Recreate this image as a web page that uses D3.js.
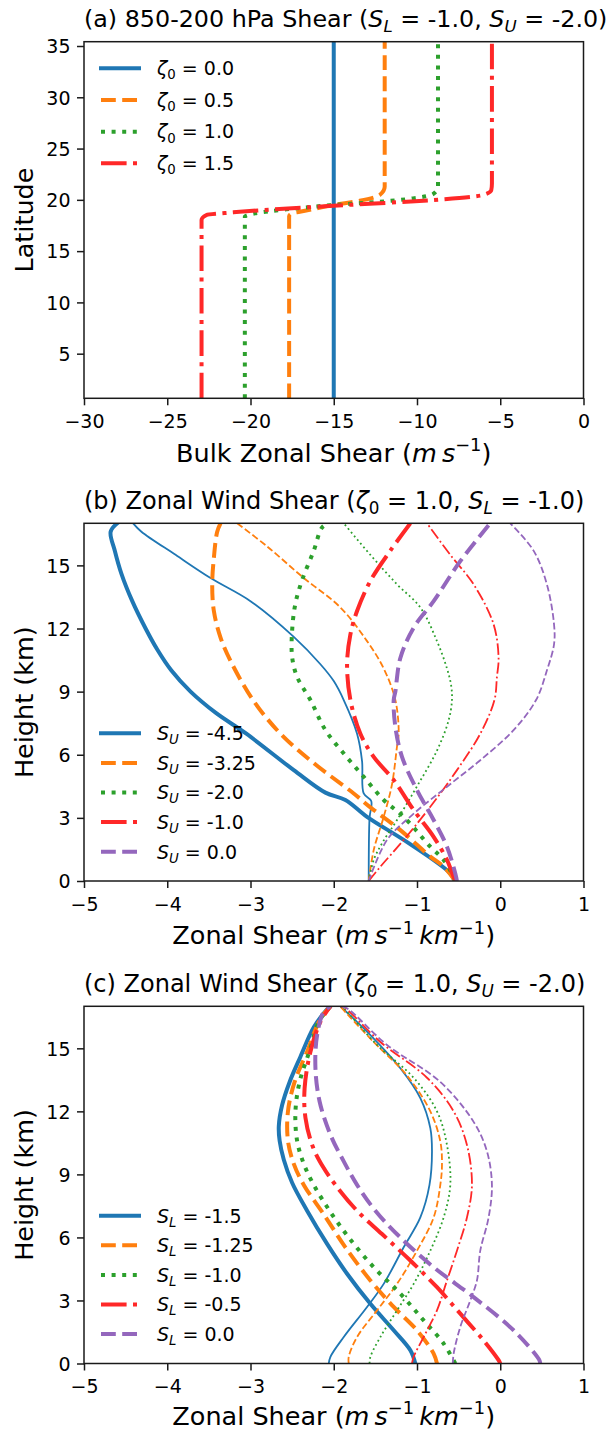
<html>
<head>
<meta charset="utf-8">
<script src="https://d3js.org/d3.v7.min.js"></script>

<style>
    body { margin: 0; background: #fff; }
    svg { font-family: "DejaVu Sans", sans-serif; }
    text { white-space: pre; fill: #000; }
    .frame { fill: none; stroke: #1a1a1a; stroke-width: 1.5px; }
    .axis path { display: none; }
    .axis line { stroke: #1a1a1a; stroke-width: 1.5px; }
    .curve { fill: none; stroke-linejoin: round; }
</style>
</head>

<svg width=610 height=1431></svg>

<script>

    // ---- panel (a): bulk 850-200 hPa shear vs latitude, [shear, lat]
    let zetaLabels = ['0.0', '0.5', '1.0', '1.5'];
    let bulkZeta00 = [[-15, 0.65], [-15, 35.42]];
    let bulkZeta05 = [[-17.68, 0.65], [-17.68, 18.4], [-17.5, 18.7], [-17.04, 18.84], [-15.04, 19.49],
        [-13.44, 19.91], [-12.24, 20.47], [-11.94, 21.27], [-11.94, 35.42]];
    let bulkZeta10 = [[-20.34, 0.65], [-20.34, 18.35], [-19.74, 18.68], [-17.84, 19.07], [-15.04, 19.49],
        [-12.24, 19.81], [-10.24, 20.14], [-9.04, 20.56], [-8.74, 21.27], [-8.74, 35.42]];
    let bulkZeta15 = [[-22.94, 0.65], [-22.94, 18.03], [-22.64, 18.52], [-21.04, 18.78], [-15.04, 19.42],
        [-9.04, 19.98], [-6.04, 20.47], [-5.54, 20.95], [-5.5, 21.6], [-5.5, 35.42]];

    // ---- panel (b): zonal shear profiles for S_U, [shear, km]
    let suLabels = ['-4.5', '-3.25', '-2.0', '-1.0', '0.0'];
    let suThick45 = [[-0.55, 0], [-0.6, 0.36], [-1.1, 1.8], [-1.6, 3.05], [-1.86, 3.85], [-2.1, 4.2], [-2.48, 5.27],
        [-3.05, 7.0], [-3.42, 8.0], [-3.72, 9.0], [-3.95, 10], [-4.12, 11], [-4.26, 12], [-4.42, 13.3],
        [-4.55, 14.6], [-4.63, 15.7], [-4.68, 16.6], [-4.6, 17]];
    let suThin45 = [[-1.58, 0], [-1.57, 3.0], [-1.55, 3.8], [-1.64, 4.16], [-1.66, 5.7], [-1.72, 7.0], [-1.88, 8.6],
        [-2.0, 9.5], [-2.16, 10.3], [-2.48, 11.6], [-3.0, 13.3], [-3.48, 14.4], [-3.9, 15.5], [-4.31, 16.6], [-4.41, 17]];
    let suThick325 = [[-0.54, 0], [-0.68, 0.68], [-0.84, 1.16], [-1.2, 2.42], [-1.56, 3.5], [-1.76, 4.16], [-2.24, 5.6],
        [-2.64, 7.0], [-2.97, 8.6], [-3.24, 10.46], [-3.36, 11.57], [-3.44, 12.83], [-3.46, 14.1], [-3.44, 15.36],
        [-3.4, 16.6], [-3.36, 17]];
    let suThin325 = [[-1.58, 0], [-1.52, 1.47], [-1.4, 3.05], [-1.3, 4.6], [-1.24, 6.4], [-1.22, 7.0], [-1.26, 8.6],
        [-1.4, 10.1], [-1.6, 11.4], [-1.92, 13.0], [-2.36, 14.4], [-2.8, 15.9], [-3.16, 17]];
    let suThick20 = [[-0.54, 0], [-0.56, 0.2], [-0.68, 1.0], [-0.84, 1.63], [-1.16, 3.05], [-1.4, 3.85], [-1.64, 4.95],
        [-1.88, 6.06], [-2.1, 7.17], [-2.28, 8.6], [-2.44, 9.7], [-2.5, 10.65], [-2.5, 11.9], [-2.46, 13.2],
        [-2.38, 14.3], [-2.24, 15.7], [-2.14, 16.8], [-2.06, 17]];
    let suThin20 = [[-1.58, 0], [-1.52, 1.0], [-1.42, 1.79], [-1.24, 2.9], [-1.0, 4.5], [-0.76, 6.2], [-0.62, 7.64],
        [-0.58, 8.6], [-0.59, 9.3], [-0.64, 10.1], [-0.76, 11.4], [-0.96, 13.0], [-1.24, 14.1], [-1.56, 15.5], [-1.88, 17]];
    let suThick10 = [[-0.53, 0], [-0.56, 0.2], [-0.64, 1.0], [-0.8, 2.1], [-1.04, 3.37], [-1.28, 4.8], [-1.52, 5.9],
        [-1.68, 7.0], [-1.8, 8.6], [-1.84, 10.3], [-1.8, 11.72], [-1.72, 12.83], [-1.56, 14.26], [-1.32, 15.7], [-1.08, 17]];
    let suThin10 = [[-1.58, 0], [-1.44, 0.68], [-1.16, 1.95], [-0.84, 3.53], [-0.52, 5.27], [-0.24, 7.0], [-0.07, 8.6],
        [-0.04, 9.7], [-0.02, 10.6], [-0.08, 12.2], [-0.32, 14.1], [-0.6, 15.5], [-0.88, 17]];
    let suThick00 = [[-0.52, 0], [-0.54, 0.36], [-0.64, 1.63], [-0.8, 2.9], [-1.0, 4.32], [-1.18, 5.9], [-1.26, 7.33],
        [-1.28, 8.6], [-1.26, 9.0], [-1.2, 10.6], [-1.04, 12.04], [-0.8, 13.3], [-0.48, 15.2], [-0.12, 17]];
    let suThin00 = [[-1.58, 0], [-1.36, 1.95], [-1.04, 3.2], [-0.64, 4.48], [-0.24, 5.74], [0.16, 7.17], [0.43, 8.6],
        [0.56, 10.0], [0.646, 11.25], [0.646, 12.2], [0.56, 14.1], [0.4, 15.7], [0.12, 17]];

    // ---- panel (c): zonal shear profiles for S_L, [shear, km]
    let slLabels = ['-1.5', '-1.25', '-1.0', '-0.5', '0.0'];
    let slThick15 = [[-1.02, 0], [-1.08, 0.63], [-1.28, 1.58], [-1.56, 2.84], [-1.84, 4.27], [-2.08, 5.69], [-2.32, 7.27],
        [-2.5, 8.6], [-2.6, 9.7], [-2.65, 10.6], [-2.66, 11.3], [-2.62, 12.3], [-2.53, 13.4], [-2.4, 14.6],
        [-2.24, 16.0], [-2.08, 16.85], [-2.04, 17]];
    let slThin15 = [[-2.06, 0], [-2.04, 0.32], [-1.88, 1.26], [-1.6, 2.69], [-1.4, 3.79], [-1.16, 5.53], [-0.96, 6.95],
        [-0.85, 8.5], [-0.82, 10.1], [-0.84, 11.2], [-0.96, 12.63], [-1.2, 14.05], [-1.56, 15.63], [-1.92, 17]];
    let slThick125 = [[-0.76, 0], [-0.8, 0.47], [-1.0, 1.58], [-1.28, 2.69], [-1.56, 3.95], [-1.86, 5.53], [-2.12, 7.1],
        [-2.36, 8.5], [-2.48, 9.5], [-2.55, 10.6], [-2.55, 12.0], [-2.47, 13.4], [-2.32, 14.84], [-2.16, 16.4], [-2.04, 17]];
    let slThin125 = [[-1.82, 0], [-1.82, 0.32], [-1.72, 1.26], [-1.48, 2.53], [-1.24, 3.79], [-1.0, 5.37], [-0.8, 6.95],
        [-0.72, 8.5], [-0.7, 9.46], [-0.72, 10.57], [-0.84, 12.0], [-1.12, 13.7], [-1.52, 15.3], [-1.9, 16.9], [-1.92, 17]];
    let slThick10 = [[-0.54, 0], [-0.68, 0.95], [-0.92, 2.05], [-1.2, 3.32], [-1.52, 4.58], [-1.82, 6.0], [-2.05, 7.27],
        [-2.24, 8.5], [-2.36, 9.5], [-2.44, 10.6], [-2.46, 12.0], [-2.41, 13.4], [-2.28, 15.0], [-2.18, 16.27], [-2.04, 17]];
    let slThin10 = [[-1.57, 0], [-1.56, 0.32], [-1.44, 1.26], [-1.24, 2.53], [-1.04, 3.79], [-0.84, 5.37], [-0.68, 6.95],
        [-0.6, 8.5], [-0.64, 10.4], [-0.76, 12.0], [-1.04, 13.6], [-1.48, 15.16], [-1.88, 16.9], [-1.92, 17]];
    let slThick05 = [[0, 0], [-0.02, 0.16], [-0.2, 1.1], [-0.48, 2.37], [-0.76, 3.63], [-1.08, 4.9], [-1.42, 6.16],
        [-1.72, 7.27], [-1.98, 8.5], [-2.12, 9.3], [-2.25, 10.3], [-2.34, 11.7], [-2.35, 13.1], [-2.28, 14.84],
        [-2.16, 16.27], [-2.04, 17]];
    let slThin05 = [[-1.06, 0], [-1.04, 0.32], [-0.92, 1.26], [-0.76, 2.53], [-0.64, 3.95], [-0.52, 5.37], [-0.4, 6.95],
        [-0.34, 8.5], [-0.4, 10.4], [-0.56, 12.0], [-0.88, 13.6], [-1.44, 15.3], [-1.86, 16.9], [-1.92, 17]];
    let slThick00 = [[0.48, 0], [0.47, 0.16], [0.16, 1.58], [-0.32, 3.16], [-0.8, 4.58], [-1.2, 6.0], [-1.5, 7.27],
        [-1.72, 8.5], [-1.88, 9.62], [-2.04, 10.89], [-2.17, 12.47], [-2.22, 14.05], [-2.2, 15.63], [-2.12, 16.74], [-2.04, 17]];
    let slThin00 = [[-0.57, 0], [-0.56, 0.47], [-0.48, 1.74], [-0.36, 3.0], [-0.28, 3.95], [-0.24, 5.37], [-0.14, 6.95],
        [-0.1, 8.5], [-0.16, 10.1], [-0.32, 11.5], [-0.72, 13.4], [-1.36, 15.16], [-1.84, 16.9], [-1.92, 17]];

    // ticks
    let xTicksA = [-30, -25, -20, -15, -10, -5, 0];
    let yTicksA = [5, 10, 15, 20, 25, 30, 35];
    let xTicksBC = [-5, -4, -3, -2, -1, 0, 1];
    let yTicksBC = [0, 3, 6, 9, 12, 15];

    let colors = ['#1f77b4', '#ff7f0e', '#2ca02c', '#ff2828', '#9467bd'];
    let styles = ['solid', 'dashed', 'dotted', 'dashdot', 'dashed'];

    function dashes(style, lw) {
        if (style == 'dashed') return [3.7 * lw, 1.6 * lw].join(',');
        if (style == 'dotted') return [lw, 1.65 * lw].join(',');
        if (style == 'dashdot') return [6.4 * lw, 1.6 * lw, lw, 1.6 * lw].join(',');
        return null;
    }

    let svg = d3.select('svg'),
        left = 84, right = 583.5,
        tickFont = 19, labelFont = 25.5;

    // mathtext-ish rich text: parts with it / sub / sup flags
    function rich(textSel, parts, size) {
        let shift = 0;
        parts.forEach(p => {
            let want = p.sub ? 0.22 * size : p.sup ? -0.42 * size : 0;
            let ts = textSel.append('tspan').text(p.t);
            if (want != shift) ts.attr('dy', want - shift);
            shift = want;
            if (p.it) ts.attr('font-style', 'italic');
            if (p.sub || p.sup) ts.attr('font-size', size * 0.7);
        });
        return textSel;
    }

    function panel(cfg) {
        let x = d3.scaleLinear().domain(cfg.xDomain).range([left, right]);
        let y = d3.scaleLinear().domain(cfg.yDomain).range([cfg.bottom, cfg.top]);

        let clipId = 'clip' + cfg.id;
        svg.append('clipPath').attr('id', clipId)
            .append('rect')
            .attr('x', left).attr('y', cfg.top)
            .attr('width', right - left).attr('height', cfg.bottom - cfg.top);

        let line = d3.line()
            .x(d => x(d[0]))
            .y(d => y(d[1]))
            .curve(cfg.curve);

        let g = svg.append('g').attr('clip-path', 'url(#' + clipId + ')');
        cfg.series.forEach((s, i) => {
            let layers = [[s.thick, 4]];
            if (s.thin) layers.push([s.thin, 1.8]);
            layers.forEach(([data, lw]) => {
                g.append('path')
                    .attr('class', 'curve')
                    .attr('d', line(data))
                    .attr('stroke', colors[i])
                    .attr('stroke-width', lw)
                    .attr('stroke-linecap', styles[i] == 'solid' ? 'square' : 'butt')
                    .attr('stroke-dasharray', dashes(styles[i], lw));
            });
        });

        // axes
        let fmt = d3.format('d');
        let xa = svg.append('g').attr('class', 'axis')
            .attr('transform', 'translate(0,' + cfg.bottom + ')')
            .call(d3.axisBottom(x).tickValues(cfg.xTicks).tickFormat(fmt).tickSize(7).tickSizeOuter(0));
        let ya = svg.append('g').attr('class', 'axis')
            .attr('transform', 'translate(' + left + ',0)')
            .call(d3.axisLeft(y).tickValues(cfg.yTicks).tickFormat(fmt).tickSize(7).tickSizeOuter(0).tickPadding(6.5));
        [xa, ya].forEach(a => a.attr('font-size', tickFont).attr('font-family', null));
        xa.selectAll('text').attr('dy', '0.71em').attr('y', 16.5);
        ya.selectAll('text').attr('dy', '0.36em');

        svg.append('rect').attr('class', 'frame')
            .attr('x', left).attr('y', cfg.top)
            .attr('width', right - left).attr('height', cfg.bottom - cfg.top);

        // title, left aligned on the axes
        rich(svg.append('text')
            .attr('x', left).attr('y', cfg.top - 14.5)
            .attr('font-size', cfg.titleFont), cfg.title, cfg.titleFont);

        rich(svg.append('text')
            .attr('x', (left + right) / 2).attr('y', cfg.bottom + cfg.xLabelGap)
            .attr('text-anchor', 'middle')
            .attr('font-size', labelFont), cfg.xLabel, labelFont);

        svg.append('text')
            .attr('transform', 'translate(33,' + (cfg.top + cfg.bottom) / 2 + ') rotate(-90)')
            .attr('text-anchor', 'middle')
            .attr('font-size', labelFont)
            .text(cfg.yLabel);

        // legend
        let lg = svg.append('g');
        cfg.legend.forEach((lab, i) => {
            let ly = cfg.legendY + i * cfg.legendStep;
            lg.append('line')
                .attr('x1', 101).attr('x2', 139).attr('y1', ly).attr('y2', ly)
                .attr('stroke', colors[i]).attr('stroke-width', 4)
                .attr('stroke-linecap', styles[i] == 'solid' ? 'square' : 'butt')
                .attr('stroke-dasharray', dashes(styles[i], 4));
            rich(lg.append('text').attr('x', 157).attr('y', ly + 6.8).attr('font-size', tickFont),
                lab, tickFont);
        });
    }

    let shearUnits = [{t: 'Zonal Shear ('}, {t: 'm', it: 1}, {t: '\u2009'}, {t: 's', it: 1}, {t: '\u22121', sup: 1},
        {t: '\u2009'}, {t: 'km', it: 1}, {t: '\u22121', sup: 1}, {t: ')'}];
    let smooth = d3.curveCatmullRom.alpha(0.5);

    panel({
        id: 'a', top: 41.7, bottom: 398.3, titleFont: 23.8, xLabelGap: 63.3, curve: d3.curveMonotoneY,
        xDomain: [-30, 0], yDomain: [0.65, 35.42],
        xTicks: xTicksA, yTicks: yTicksA,
        series: [{thick: bulkZeta00}, {thick: bulkZeta05}, {thick: bulkZeta10}, {thick: bulkZeta15}],
        title: [{t: '(a) 850-200 hPa Shear ('}, {t: 'S', it: 1}, {t: 'L', it: 1, sub: 1}, {t: ' = -1.0, '},
            {t: 'S', it: 1}, {t: 'U', it: 1, sub: 1}, {t: ' = -2.0)'}],
        xLabel: [{t: 'Bulk Zonal Shear ('}, {t: 'm', it: 1}, {t: '\u2009'}, {t: 's', it: 1}, {t: '\u22121', sup: 1}, {t: ')'}],
        yLabel: 'Latitude',
        legend: zetaLabels.map(v => [{t: '\u03b6', it: 1}, {t: '0', sub: 1}, {t: ' = ' + v}]),
        legendY: 68.3, legendStep: 31.67
    });

    panel({
        id: 'b', top: 523.3, bottom: 881, titleFont: 24, xLabelGap: 63.3, curve: smooth,
        xDomain: [-5, 1], yDomain: [0, 17],
        xTicks: xTicksBC, yTicks: yTicksBC,
        series: [{thick: suThick45, thin: suThin45}, {thick: suThick325, thin: suThin325},
            {thick: suThick20, thin: suThin20}, {thick: suThick10, thin: suThin10}, {thick: suThick00, thin: suThin00}],
        title: [{t: '(b) Zonal Wind Shear ('}, {t: '\u03b6', it: 1}, {t: '0', sub: 1}, {t: ' = 1.0, '},
            {t: 'S', it: 1}, {t: 'L', it: 1, sub: 1}, {t: ' = -1.0)'}],
        xLabel: shearUnits,
        yLabel: 'Height (km)',
        legend: suLabels.map(v => [{t: 'S', it: 1}, {t: 'U', it: 1, sub: 1}, {t: ' = ' + v}]),
        legendY: 733.3, legendStep: 29.6
    });

    panel({
        id: 'c', top: 1006.3, bottom: 1363.5, titleFont: 24, xLabelGap: 61, curve: smooth,
        xDomain: [-5, 1], yDomain: [0, 17],
        xTicks: xTicksBC, yTicks: yTicksBC,
        series: [{thick: slThick15, thin: slThin15}, {thick: slThick125, thin: slThin125},
            {thick: slThick10, thin: slThin10}, {thick: slThick05, thin: slThin05}, {thick: slThick00, thin: slThin00}],
        title: [{t: '(c) Zonal Wind Shear ('}, {t: '\u03b6', it: 1}, {t: '0', sub: 1}, {t: ' = 1.0, '},
            {t: 'S', it: 1}, {t: 'U', it: 1, sub: 1}, {t: ' = -2.0)'}],
        xLabel: shearUnits,
        yLabel: 'Height (km)',
        legend: slLabels.map(v => [{t: 'S', it: 1}, {t: 'L', it: 1, sub: 1}, {t: ' = ' + v}]),
        legendY: 1215.7, legendStep: 29.6
    });

</script>
</html>
